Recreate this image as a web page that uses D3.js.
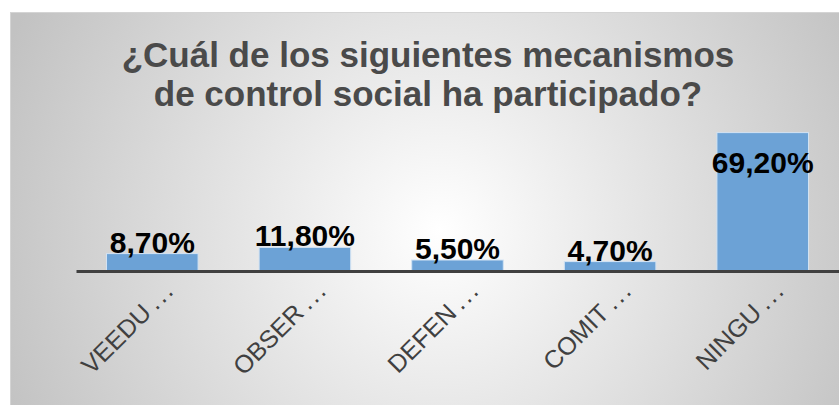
<!DOCTYPE html>
<html>
<head>
<meta charset="utf-8">
<script src="https://cdn.jsdelivr.net/npm/d3@7"></script>
<style>
  body { margin: 0; background: #fff; }
  svg { display: block; font-family: "Liberation Sans", Arial, sans-serif; }
</style>
</head>
<body>
<svg id="chart" width="839" height="405"></svg>
<script>
// chart data
const titleLines = ["¿Cuál de los siguientes mecanismos", "de control social ha participado?"];
const categories = ["VEEDU…", "OBSER…", "DEFEN…", "COMIT…", "NINGU…"];
const values = [8.7, 11.8, 5.5, 4.7, 69.2];
const yDomain = [0, 80];

const svg = d3.select("#chart");
const width = 839, height = 405;
const plot = { left: 76, right: 839, top: 111, bottom: 271 };

// radial background like the office chart style
const defs = svg.append("defs");
const grad = defs.append("radialGradient")
    .attr("id", "bg")
    .attr("gradientUnits", "userSpaceOnUse")
    .attr("cx", 440).attr("cy", 230).attr("r", 470);
grad.append("stop").attr("offset", "0%").attr("stop-color", "#ffffff");
grad.append("stop").attr("offset", "100%").attr("stop-color", "#c2c2c2");

svg.append("rect")
    .attr("x", 10.5).attr("y", 12.5)
    .attr("width", width).attr("height", height)
    .attr("fill", "url(#bg)")
    .attr("stroke", "#d4d4d4");

// title
svg.append("g").selectAll("text")
    .data(titleLines)
    .enter()
    .append("text")
    .attr("x", 428)
    .attr("y", (d, i) => 67 + i * 39)
    .attr("text-anchor", "middle")
    .attr("font-size", 35)
    .attr("font-weight", "bold")
    .attr("fill", "#4a4a4a")
    .text(d => d);

const x = d3.scaleBand()
    .domain(categories)
    .range([plot.left, plot.right])
    .paddingInner(0.4)
    .paddingOuter(0.2);

const y = d3.scaleLinear()
    .domain(yDomain)
    .range([plot.bottom, plot.top]);

const data = categories.map((c, i) => ({ cat: c, value: values[i] }));

// bars
svg.append("g").selectAll("rect")
    .data(data)
    .enter()
    .append("rect")
    .attr("x", d => x(d.cat))
    .attr("y", d => y(d.value))
    .attr("width", x.bandwidth())
    .attr("height", d => y(0) - y(d.value))
    .attr("fill", "#6ca2d6")
    .attr("stroke", "#d3e3f3")
    .attr("stroke-width", 1);

// x axis
const xAxis = svg.append("g")
    .attr("transform", `translate(0, ${y(0)})`)
    .call(d3.axisBottom(x).tickSize(0).tickPadding(0));
xAxis.select(".domain")
    .attr("stroke", "#404040")
    .attr("stroke-width", 3);

// truncated labels: the dots are drawn a bit spread out, like the original
const ticks = xAxis.selectAll(".tick text")
    .text(null)
    .attr("font-size", 25)
    .attr("font-family", "Liberation Sans, Arial, sans-serif")
    .attr("fill", "#404040")
    .attr("text-anchor", "end")
    .attr("dy", 0)
    .attr("y", 0)
    .attr("transform", "translate(24, 20) rotate(-45)");
ticks.append("tspan").text(d => d.slice(0, -1));
ticks.append("tspan")
    .attr("dx", 5)
    .attr("letter-spacing", 2.5)
    .text("...");

// data labels: outside end, moved inside when there is no room on top
const fmt = v => v.toFixed(2).replace(".", ",") + "%";
svg.append("g").selectAll("text")
    .data(data)
    .enter()
    .append("text")
    .attr("x", d => x(d.cat) + x.bandwidth() / 2)
    .attr("y", d => {
        const top = y(d.value);
        return top - 24 < plot.top ? top + 40 : top - 1;
    })
    .attr("text-anchor", "middle")
    .attr("font-size", 30)
    .attr("font-weight", "bold")
    .attr("fill", "#000")
    .text(d => fmt(d.value));
</script>
</body>
</html>
